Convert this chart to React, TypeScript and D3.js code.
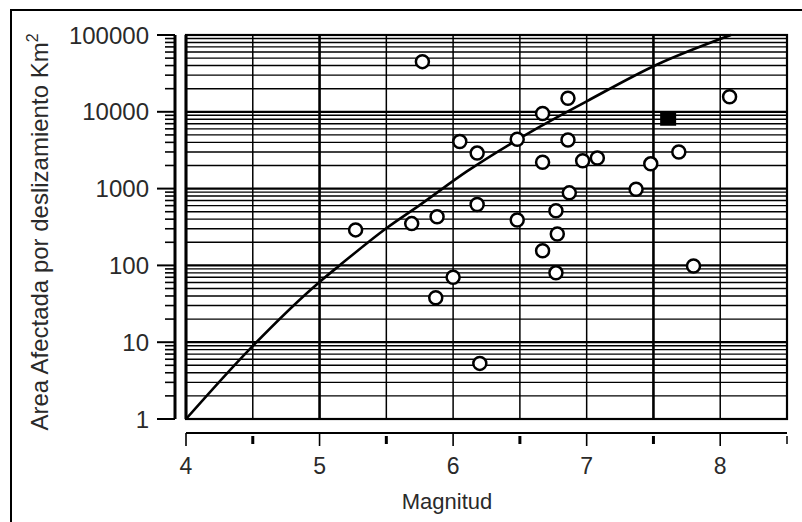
import * as d3 from "d3";
import { useEffect, useRef } from "react";

// open circles
const magnitudes = [5.27, 5.77, 5.69, 5.88, 5.87, 6.0, 6.05, 6.18, 6.18, 6.2, 6.48, 6.48, 6.67, 6.67, 6.67, 6.77, 6.78, 6.77, 6.86, 6.86, 6.87, 6.97, 7.08, 7.37, 7.48, 7.69, 7.8, 8.07];
const areas = [290, 45000, 350, 430, 38, 70, 4100, 2900, 620, 5.3, 4400, 390, 9500, 2200, 155, 515, 256, 80, 15000, 4300, 880, 2300, 2500, 980, 2100, 3000, 98, 15700];

// the one filled square
const squareMagnitudes = [7.61];
const squareAreas = [8000];

// upper bound curve
const curveMagnitudes = [4.0, 4.47, 5.0, 5.15, 5.5, 5.75, 6.1, 6.65, 7.0, 7.52, 8.08];
const curveAreas = [1, 7.9, 61, 100, 305, 610, 1660, 6400, 13700, 40700, 100000];

// axes
const xTicks = [4, 5, 6, 7, 8];
const xHalfTicks = [4.5, 5.5, 6.5, 7.5, 8.5];
const xHeavyLines = [5, 7.5];
const yTicks = [1, 10, 100, 1000, 10000, 100000];
const yTickLabels = ["1", "10", "100", "1000", "10000", "100000"];

const W = 802;
const H = 522;
const FONT = "'Liberation Sans', Arial, sans-serif";
const TEXT = "#2a2a2a";

export default function App() {
  const ref = useRef<SVGSVGElement>(null);

  useEffect(() => {
    const svg = d3.select(ref.current);
    svg.selectAll("*").remove();

    const x = d3.scaleLinear().domain([4, 8.5]).range([186, 787]);
    const y = d3.scaleLog().domain([1, 100000]).range([419, 35]);

    svg.append("rect").attr("width", W).attr("height", H).attr("fill", "#fff");

    // outer frame (right and bottom run off the page)
    svg.append("rect")
      .attr("x", 11).attr("y", 10)
      .attr("width", 820).attr("height", 540)
      .attr("fill", "none").attr("stroke", "#000").attr("stroke-width", 2);

    const grid = svg.append("g");

    // horizontal grid, every log tick
    grid.selectAll("line.h")
      .data(y.ticks())
      .enter().append("line")
      .attr("x1", x(4)).attr("x2", x(8.5))
      .attr("y1", (d) => y(d)).attr("y2", (d) => y(d))
      .attr("stroke", "#000")
      .attr("stroke-width", (d) => (yTicks.includes(d) ? 2.2 : 1.4));

    // vertical grid
    grid.selectAll("line.v")
      .data([...xTicks, ...xHalfTicks])
      .enter().append("line")
      .attr("x1", (d) => x(d)).attr("x2", (d) => x(d))
      .attr("y1", y(100000)).attr("y2", y(1))
      .attr("stroke", "#000")
      .attr("stroke-width", (d) => (xHeavyLines.includes(d) ? 2.6 : 1.5));

    // plot frame
    svg.append("rect")
      .attr("x", x(4)).attr("y", y(100000))
      .attr("width", x(8.5) - x(4)).attr("height", y(1) - y(100000))
      .attr("fill", "none").attr("stroke", "#000").attr("stroke-width", 2.2);
    svg.append("line")
      .attr("x1", x(4)).attr("x2", x(4))
      .attr("y1", y(100000)).attr("y2", y(1))
      .attr("stroke", "#000").attr("stroke-width", 3);

    // y axis, set off to the left
    const yAxis = svg.append("g");
    yAxis.append("line")
      .attr("x1", 175).attr("x2", 175)
      .attr("y1", y(100000)).attr("y2", y(1))
      .attr("stroke", "#000").attr("stroke-width", 3);
    yAxis.selectAll("line.minor")
      .data(y.ticks().filter((d) => !yTicks.includes(d)))
      .enter().append("line")
      .attr("x1", 165).attr("x2", 175)
      .attr("y1", (d) => y(d)).attr("y2", (d) => y(d))
      .attr("stroke", "#000").attr("stroke-width", 1.6);
    yAxis.selectAll("line.major")
      .data(yTicks)
      .enter().append("line")
      .attr("x1", 157).attr("x2", 175)
      .attr("y1", (d) => y(d)).attr("y2", (d) => y(d))
      .attr("stroke", "#000").attr("stroke-width", 2);
    yAxis.selectAll("text")
      .data(yTicks)
      .enter().append("text")
      .attr("x", 149).attr("y", (d) => y(d))
      .attr("dy", "0.36em")
      .attr("text-anchor", "end")
      .attr("font-family", FONT).attr("font-size", 24).attr("fill", TEXT)
      .text((d, i) => yTickLabels[i]);

    // x axis, set off below
    const xAxis = svg.append("g");
    xAxis.append("line")
      .attr("x1", x(4)).attr("x2", x(8.5))
      .attr("y1", 433).attr("y2", 433)
      .attr("stroke", "#000").attr("stroke-width", 2);
    xAxis.selectAll("line.major")
      .data(xTicks)
      .enter().append("line")
      .attr("x1", (d) => x(d)).attr("x2", (d) => x(d))
      .attr("y1", 433).attr("y2", 446)
      .attr("stroke", "#000").attr("stroke-width", 1.6);
    xAxis.selectAll("line.half")
      .data(xHalfTicks)
      .enter().append("line")
      .attr("x1", (d) => x(d)).attr("x2", (d) => x(d))
      .attr("y1", 436).attr("y2", 444)
      .attr("stroke", "#000").attr("stroke-width", (d) => (d === 8.5 ? 1.5 : 3));
    xAxis.selectAll("text")
      .data(xTicks)
      .enter().append("text")
      .attr("x", (d) => x(d)).attr("y", 466)
      .attr("dy", "0.36em")
      .attr("text-anchor", "middle")
      .attr("font-family", FONT).attr("font-size", 23).attr("fill", TEXT)
      .text((d) => String(d));

    // titles
    svg.append("text")
      .attr("x", 447).attr("y", 501)
      .attr("dy", "0.36em")
      .attr("text-anchor", "middle")
      .attr("font-family", FONT).attr("font-size", 22).attr("fill", TEXT)
      .text("Magnitud");

    const yTitle = svg.append("text")
      .attr("transform", "translate(48,232) rotate(-90)")
      .attr("text-anchor", "middle")
      .attr("font-family", FONT).attr("font-size", 24).attr("fill", TEXT);
    yTitle.append("tspan").text("Area Afectada por deslizamiento Km");
    yTitle.append("tspan").attr("dy", -10).attr("font-size", 16).text("2");

    // curve
    const pts = curveMagnitudes.map((m, i) => [x(m), y(curveAreas[i])] as [number, number]);
    svg.append("path")
      .datum(pts)
      .attr("fill", "none")
      .attr("stroke", "#000")
      .attr("stroke-width", 2.6)
      .attr("d", d3.line().curve(d3.curveMonotoneX));

    // circles
    svg.selectAll("circle")
      .data(magnitudes)
      .enter().append("circle")
      .attr("cx", (d) => x(d))
      .attr("cy", (d, i) => y(areas[i]))
      .attr("r", 6.5)
      .attr("fill", "#fff")
      .attr("stroke", "#000")
      .attr("stroke-width", 2.5);

    // square
    svg.selectAll("rect.sq")
      .data(squareMagnitudes)
      .enter().append("rect")
      .attr("x", (d) => x(d) - 8)
      .attr("y", (d, i) => y(squareAreas[i]) - 6.5)
      .attr("width", 16).attr("height", 13)
      .attr("fill", "#000");
  }, []);

  return (
    <div style={{ position: "absolute", left: 0, top: 0 }}>
      <svg ref={ref} width={W} height={H} style={{ display: "block" }}></svg>
    </div>
  );
}
